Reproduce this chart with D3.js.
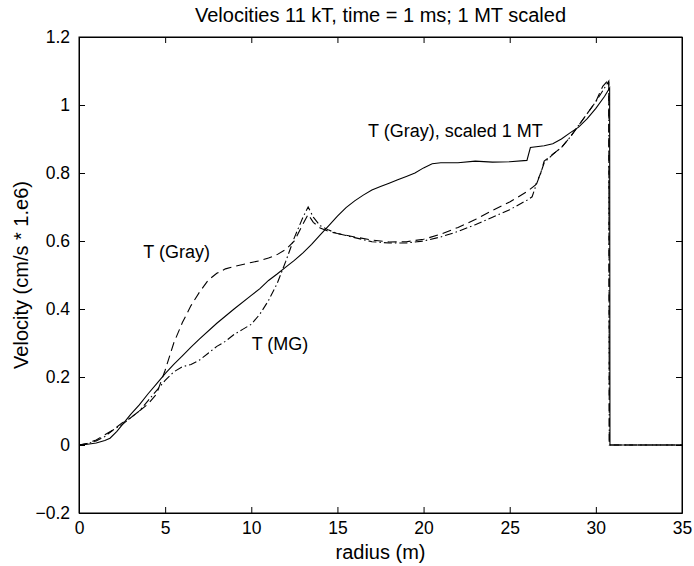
<!DOCTYPE html>
<html>
<head>
<meta charset="utf-8">
<script src="https://cdn.jsdelivr.net/npm/d3@7"></script>
<style>
  body { margin: 0; background: #fff; }
  svg text { font-family: "Liberation Sans", Arial, Helvetica, sans-serif; fill: #000; }
</style>
</head>
<body>
<div id="chart"></div>
<script>
// x ticks / y ticks
const xTicks = [0, 5, 10, 15, 20, 25, 30, 35];
const yTicks = [-0.2, 0, 0.2, 0.4, 0.6, 0.8, 1, 1.2];

// T (Gray), scaled 1 MT  (solid)
const scaledRadius = [0, 0.5, 1.0, 1.5, 1.8, 2.2, 2.6, 3.0, 3.5, 4.0, 4.5, 5.0, 5.5, 6.0, 6.5, 7, 8, 9, 10, 10.5,
  11, 11.5, 12, 12.5, 13, 13.5, 14, 14.5, 15, 15.5, 16, 16.5, 17, 17.5, 18, 18.5, 19, 19.5, 20, 20.5,
  21, 22, 23, 24, 25, 26, 26.2, 27, 27.5, 28, 28.5, 29, 29.5, 30, 30.5, 30.8, 30.82, 32, 35];
const scaledVel = [0, 0.002, 0.006, 0.013, 0.02, 0.04, 0.065, 0.09, 0.118, 0.15, 0.18, 0.21, 0.237, 0.262, 0.288, 0.312, 0.358, 0.40, 0.44, 0.46,
  0.484, 0.503, 0.523, 0.543, 0.565, 0.59, 0.618, 0.645, 0.673, 0.698, 0.718, 0.735, 0.75, 0.76, 0.77, 0.78, 0.79, 0.80, 0.815, 0.827,
  0.83, 0.83, 0.835, 0.832, 0.833, 0.837, 0.875, 0.88, 0.886, 0.90, 0.918, 0.935, 0.96, 0.99, 1.025, 1.05, 0, 0, 0];

// T (Gray)  (dashed)
const grayRadius = [0, 0.5, 1, 1.5, 2, 2.5, 3, 3.5, 4, 4.5, 5, 5.5, 6, 6.5, 7, 7.5, 8, 8.5, 9, 10,
  10.5, 11, 11.5, 12, 12.5, 13, 13.3, 13.6, 14, 14.5, 15, 16, 17, 18, 19, 20, 21, 22, 23, 24,
  25, 26, 26.5, 26.8, 27, 27.5, 28, 28.5, 29, 29.5, 30, 30.4, 30.75, 30.78, 35];
const grayVel = [0, 0.005, 0.015, 0.03, 0.045, 0.065, 0.08, 0.1, 0.12, 0.15, 0.22, 0.30, 0.36, 0.41, 0.45, 0.485, 0.505, 0.518, 0.525, 0.537,
  0.542, 0.55, 0.56, 0.575, 0.60, 0.65, 0.678, 0.655, 0.638, 0.628, 0.622, 0.612, 0.603, 0.597, 0.598, 0.605, 0.62, 0.64, 0.663, 0.69,
  0.715, 0.745, 0.765, 0.80, 0.835, 0.855, 0.875, 0.905, 0.94, 0.975, 1.01, 1.055, 1.075, 0, 0];

// T (MG)  (dash-dot)
const mgRadius = [0, 0.5, 1, 1.5, 2, 2.5, 3, 3.5, 4, 4.5, 5, 5.5, 6, 6.5, 7, 7.5, 8, 8.5, 9, 9.5,
  10, 10.5, 11, 11.5, 12, 12.5, 13, 13.3, 13.6, 14, 14.5, 15, 16, 17, 18, 19, 20, 21, 22, 23,
  24, 25, 26, 26.3, 26.5, 26.8, 27, 27.5, 28, 28.5, 29, 29.5, 30, 30.5, 30.75, 30.78, 35];
const mgVel = [0, 0.004, 0.012, 0.025, 0.045, 0.06, 0.08, 0.1, 0.13, 0.16, 0.19, 0.215, 0.23, 0.237, 0.25, 0.27, 0.29, 0.305, 0.325, 0.34,
  0.355, 0.385, 0.425, 0.475, 0.54, 0.61, 0.67, 0.70, 0.67, 0.645, 0.632, 0.622, 0.61, 0.598, 0.594, 0.594, 0.60, 0.612, 0.628, 0.648,
  0.67, 0.692, 0.72, 0.73, 0.76, 0.80, 0.83, 0.855, 0.875, 0.905, 0.94, 0.975, 1.01, 1.05, 1.07, 0, 0];

// in-plot labels
const labelText = ["T (Gray)", "T (MG)", "T (Gray), scaled 1 MT"];
const labelRadius = [3.73, 10.02, 16.78];
const labelVel = [0.551, 0.28, 0.906];

const width = 694, height = 566;
const margin = {top: 37, right: 12, bottom: 53, left: 79};

const svg = d3.select("#chart")
    .append("svg")
    .attr("width", width)
    .attr("height", height);

const x = d3.scaleLinear().domain([0, 35]).range([margin.left, width - margin.right]);
const y = d3.scaleLinear().domain([-0.2, 1.2]).range([height - margin.bottom, margin.top]);

const fmt = d => d < 0 ? "\u2212" + Math.abs(d) : String(d);

// axes, ticks pointing inward
svg.append("g")
    .attr("transform", `translate(0,${y(-0.2)})`)
    .call(d3.axisBottom(x).tickValues(xTicks).tickSizeInner(-6).tickSizeOuter(0).tickPadding(9).tickFormat(fmt));
svg.append("g")
    .attr("transform", `translate(${x(0)},0)`)
    .call(d3.axisLeft(y).tickValues(yTicks).tickSizeInner(-6).tickSizeOuter(0).tickPadding(9).tickFormat(fmt));
svg.append("g")
    .attr("transform", `translate(0,${y(1.2)})`)
    .call(d3.axisTop(x).tickValues(xTicks).tickSizeInner(-6).tickSizeOuter(0).tickFormat(""));
svg.append("g")
    .attr("transform", `translate(${x(35)},0)`)
    .call(d3.axisRight(y).tickValues(yTicks).tickSizeInner(-6).tickSizeOuter(0).tickFormat(""));

svg.selectAll(".tick text").style("font-size", "17.5px");
svg.selectAll(".domain").attr("stroke", "#000");

// box
svg.append("rect")
    .attr("x", x(0)).attr("y", y(1.2))
    .attr("width", x(35) - x(0)).attr("height", y(-0.2) - y(1.2))
    .attr("fill", "none").attr("stroke", "#000").attr("stroke-width", 1);

const line = d3.line().x(d => x(d[0])).y(d => y(d[1]));

const series = [
  {r: scaledRadius, v: scaledVel, dash: null},
  {r: grayRadius, v: grayVel, dash: "9,5"},
  {r: mgRadius, v: mgVel, dash: "8,3,1.5,3"}
];

series.forEach(s => {
  svg.append("path")
      .datum(d3.zip(s.r, s.v))
      .attr("d", line)
      .attr("fill", "none")
      .attr("stroke", "#000")
      .attr("stroke-width", 1.1)
      .attr("stroke-dasharray", s.dash);
});

labelText.forEach((t, i) => {
  svg.append("text")
      .attr("x", x(labelRadius[i]))
      .attr("y", y(labelVel[i]))
      .style("font-size", "18px")
      .text(t);
});

// title and axis labels
svg.append("text")
    .attr("x", (x(0) + x(35)) / 2)
    .attr("y", 22)
    .style("text-anchor", "middle")
    .style("font-size", "20px")
    .text("Velocities 11 kT, time = 1 ms; 1 MT scaled");

svg.append("text")
    .attr("x", (x(0) + x(35)) / 2)
    .attr("y", 559)
    .style("text-anchor", "middle")
    .style("font-size", "20px")
    .text("radius (m)");

svg.append("text")
    .attr("transform", "rotate(-90)")
    .attr("x", -(y(-0.2) + y(1.2)) / 2)
    .attr("y", 28)
    .style("text-anchor", "middle")
    .style("font-size", "20px")
    .text("Velocity (cm/s * 1.e6)");
</script>
</body>
</html>
